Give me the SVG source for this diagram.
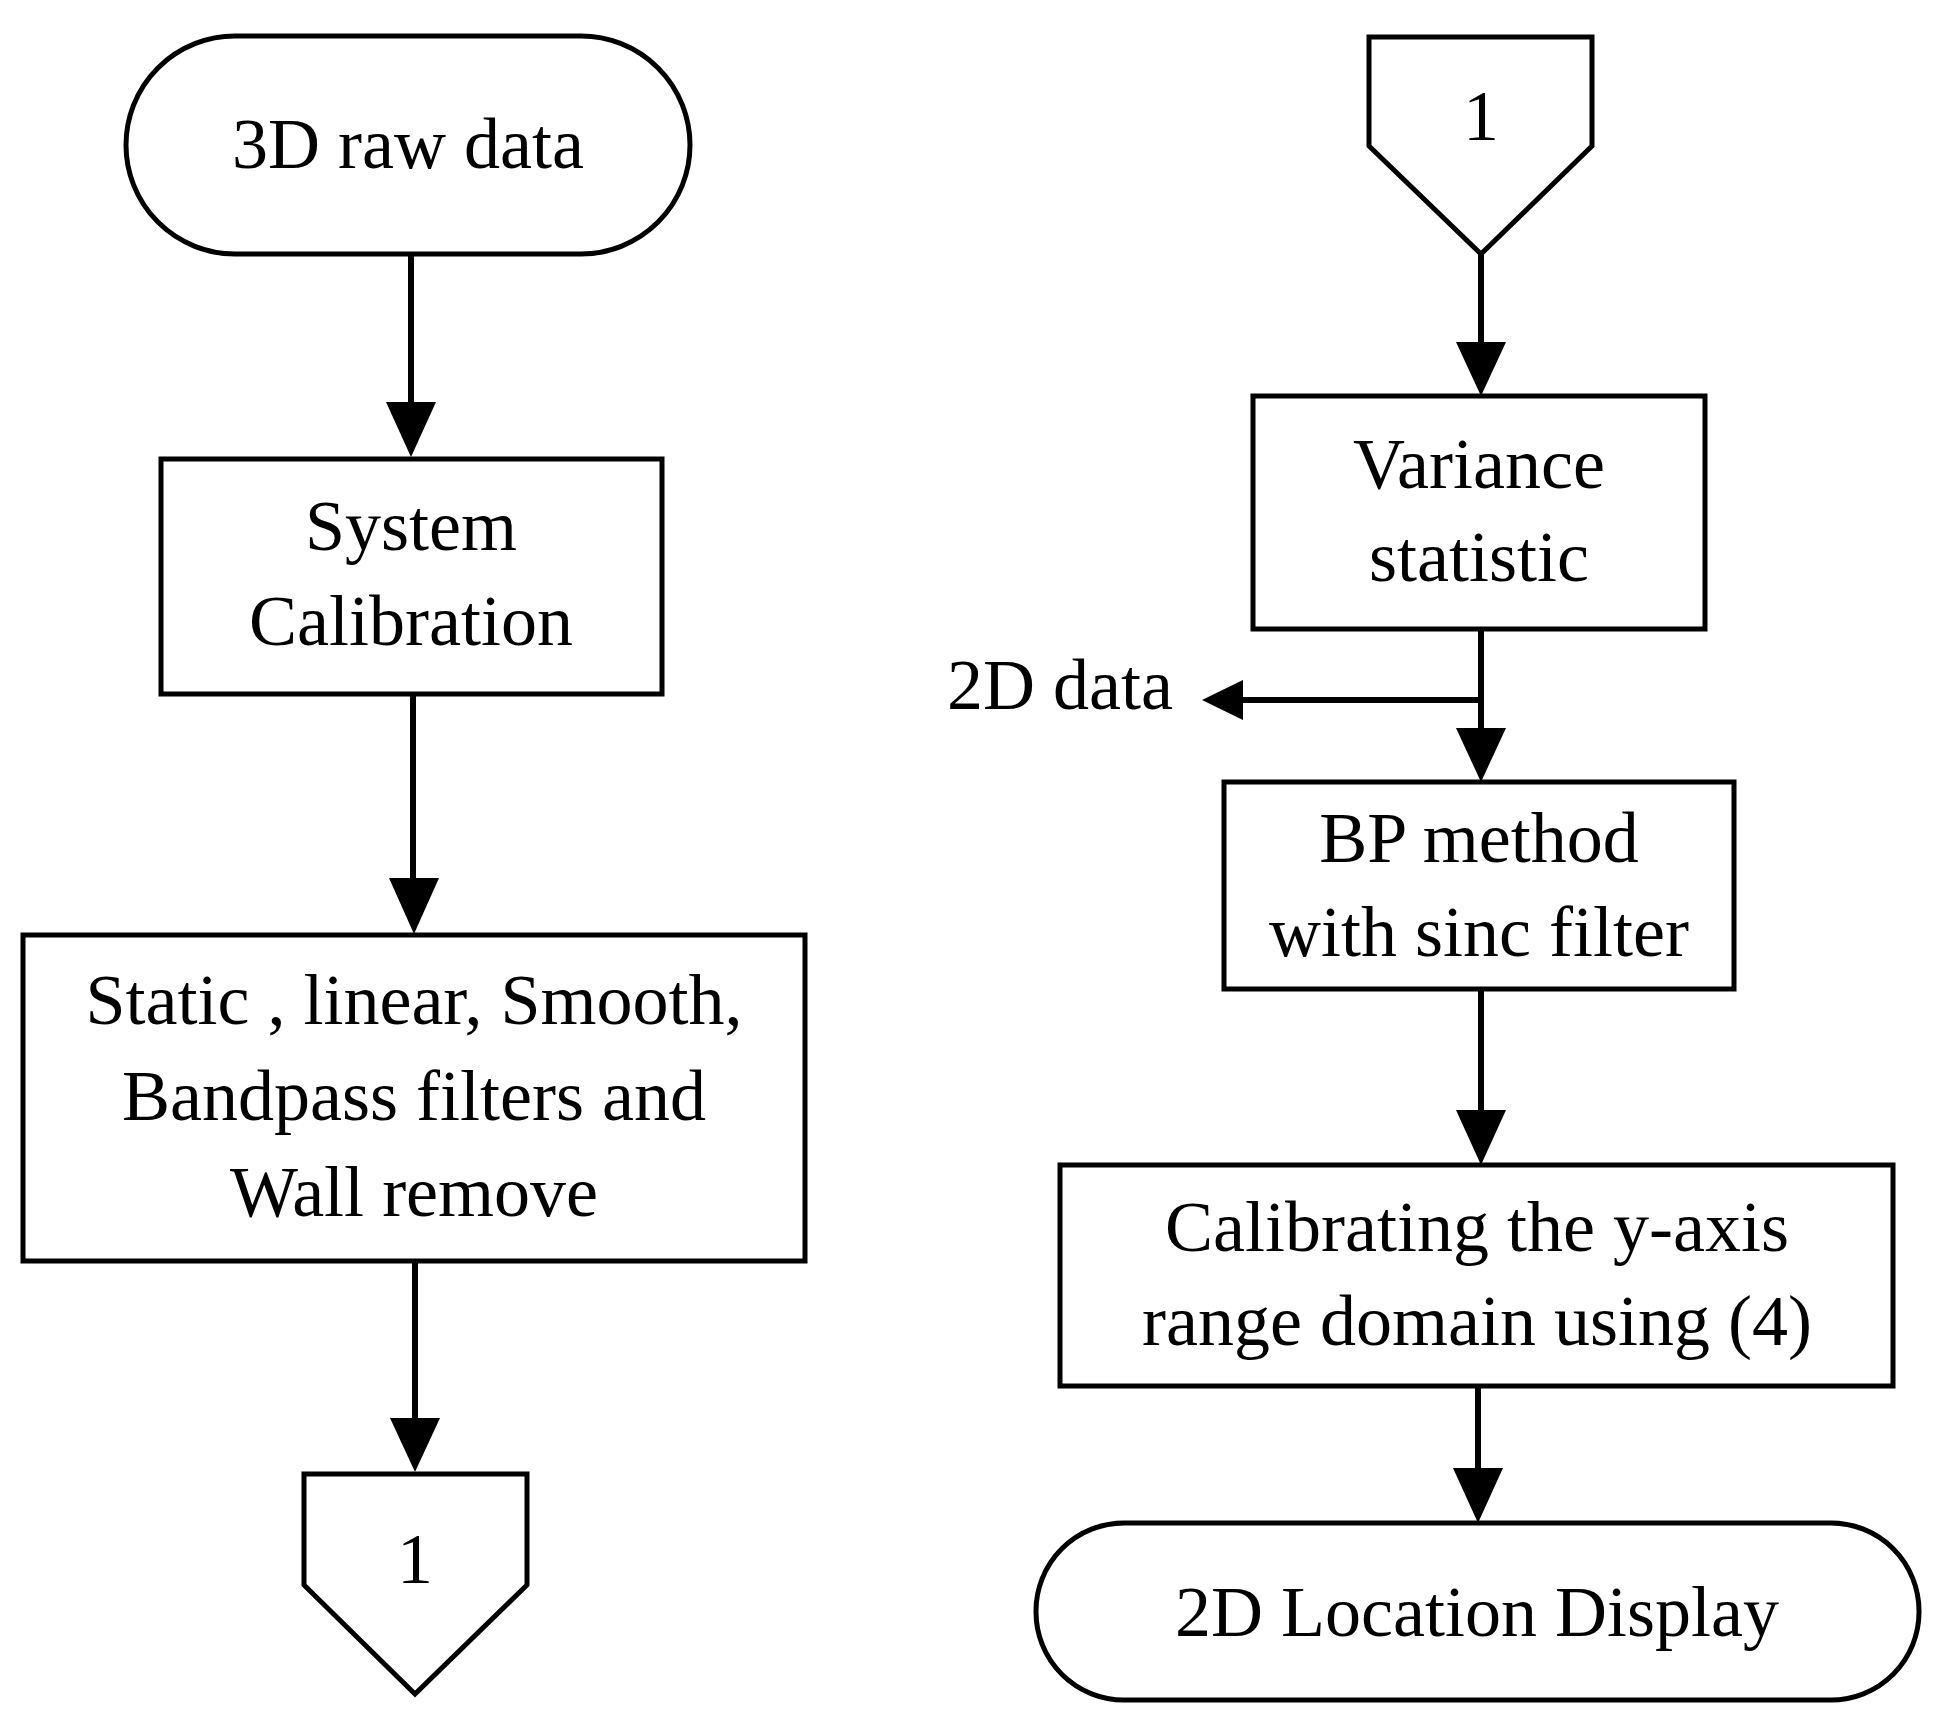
<svg xmlns="http://www.w3.org/2000/svg" width="1939" height="1728" viewBox="0 0 1939 1728">
<style>
.s{fill:#fff;stroke:#000;stroke-width:5}
.t{font-family:"Liberation Serif",serif;font-size:72px;text-anchor:middle;fill:#000}
.c{stroke:#000;stroke-width:6;fill:none}
.h{fill:#000}
</style>
<rect width="1939" height="1728" fill="#fff"/>
<g id="n1"><rect class="s" x="126" y="36" width="564" height="218" rx="109"/><text class="t" x="408" y="168">3D raw data</text></g>
<g id="n2"><rect class="s" x="161" y="459" width="501" height="235"/><text class="t" x="411" y="550">System</text><text class="t" x="411" y="645">Calibration</text></g>
<g id="n3"><rect class="s" x="23" y="935" width="782" height="326"/><text class="t" x="414" y="1024">Static , linear, Smooth,</text><text class="t" x="414" y="1120">Bandpass filters and</text><text class="t" x="414" y="1216">Wall remove</text></g>
<g id="n4"><polygon class="s" points="304,1474 527,1474 527,1585 415,1694 304,1585"/><text class="t" x="415" y="1583">1</text></g>
<g id="n5"><polygon class="s" points="1369,37 1592,37 1592,146 1481,254 1369,146"/><text class="t" x="1481" y="140">1</text></g>
<g id="n6"><rect class="s" x="1253" y="396" width="452" height="233"/><text class="t" x="1479" y="488">Variance</text><text class="t" x="1479" y="581">statistic</text></g>
<g id="n7"><text class="t" x="1060" y="709">2D data</text></g>
<g id="n8"><rect class="s" x="1224" y="782" width="510" height="207"/><text class="t" x="1479" y="862">BP method</text><text class="t" x="1479" y="956">with sinc filter</text></g>
<g id="n9"><rect class="s" x="1060" y="1165" width="833" height="221"/><text class="t" x="1477" y="1251">Calibrating the y-axis</text><text class="t" x="1477" y="1345">range domain using (4)</text></g>
<g id="n10"><rect class="s" x="1036" y="1523" width="883" height="177" rx="88"/><text class="t" x="1477" y="1636">2D Location Display</text></g>
<g id="connectors">
<path class="c" d="M411 254V404"/><polygon class="h" points="386,402 436,402 411,457"/>
<path class="c" d="M413 694V880"/><polygon class="h" points="389,878 439,878 414,934"/>
<path class="c" d="M415 1261V1420"/><polygon class="h" points="390,1418 440,1418 415,1472"/>
<path class="c" d="M1481 254V344"/><polygon class="h" points="1456,342 1506,342 1481,396"/>
<path class="c" d="M1481 629V730"/><polygon class="h" points="1456,728 1506,728 1481,782"/>
<path class="c" d="M1481 700H1240"/><polygon class="h" points="1243,680 1243,720 1202,700"/>
<path class="c" d="M1481 989V1112"/><polygon class="h" points="1456,1110 1506,1110 1481,1165"/>
<path class="c" d="M1478 1386V1470"/><polygon class="h" points="1453,1468 1503,1468 1478,1523"/>
</g>
</svg>
